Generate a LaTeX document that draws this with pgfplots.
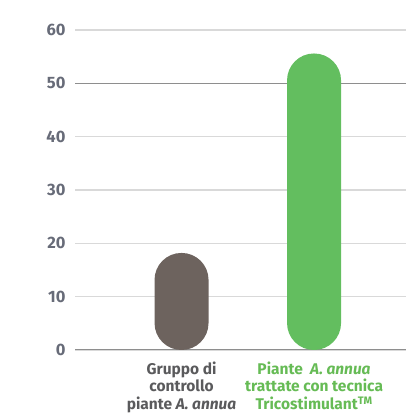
\documentclass[border=0pt]{standalone}
\usepackage{pgfplots}
\pgfplotsset{compat=1.18}
\usepackage{fontspec}
\setmainfont{Fira Sans}
\definecolor{barGrey}{HTML}{6D635E}
\definecolor{barGreen}{HTML}{63BE5F}
\definecolor{tickGrey}{HTML}{676B78}
\definecolor{labGrey}{HTML}{5A5A5C}
\definecolor{labGreen}{HTML}{66BB55}
\definecolor{gridLight}{HTML}{D9D9D9}
\definecolor{gridDark}{HTML}{8E8E8E}
\begin{document}
\begin{tikzpicture}
\useasboundingbox (0,0) rectangle (406pt,415pt);
\begin{axis}[
    at={(75pt,65pt)}, anchor=south west,
    scale only axis,
    width=331pt, height=320pt,
    xmin=-0.804, xmax=1.694,
    ymin=0, ymax=60,
    clip=false,
    axis line style={draw=none},
    major tick style={draw=none},
    ytick={0,10,...,60},
    ymajorgrids,
    grid style={gridLight, line width=1.2pt},
    extra y ticks={0,50},
    extra y tick labels={},
    extra y tick style={grid style={gridDark, line width=1pt}},
    /pgf/number format/assume math mode=true,
    yticklabel style={font=\fontsize{16.5}{16.5}\selectfont\bfseries, text=tickGrey, xshift=-6pt},
    xtick={0,1},
    xticklabels={
        {\color{labGrey}Gruppo di\\[1.5pt]\color{labGrey}controllo\\[1.5pt]\color{labGrey}piante \textit{A. annua}},
        {\color{labGreen}Piante \ \textit{A. annua}\\[1.5pt]\color{labGreen}trattate con tecnica\\[1.5pt]\color{labGreen}Tricostimulant\textsuperscript{TM}}},
    xticklabel style={align=center, font=\fontsize{15.5}{16}\selectfont\bfseries, yshift=-4pt},
    ybar, bar shift=0pt,
    bar width=54pt,
]
\addplot [draw=none, fill=barGrey, rounded corners=26.9pt] coordinates {(0,18.2)};
\addplot [draw=none, fill=barGreen, rounded corners=26.9pt] coordinates {(1,55.6)};
\end{axis}
\end{tikzpicture}
\end{document}
